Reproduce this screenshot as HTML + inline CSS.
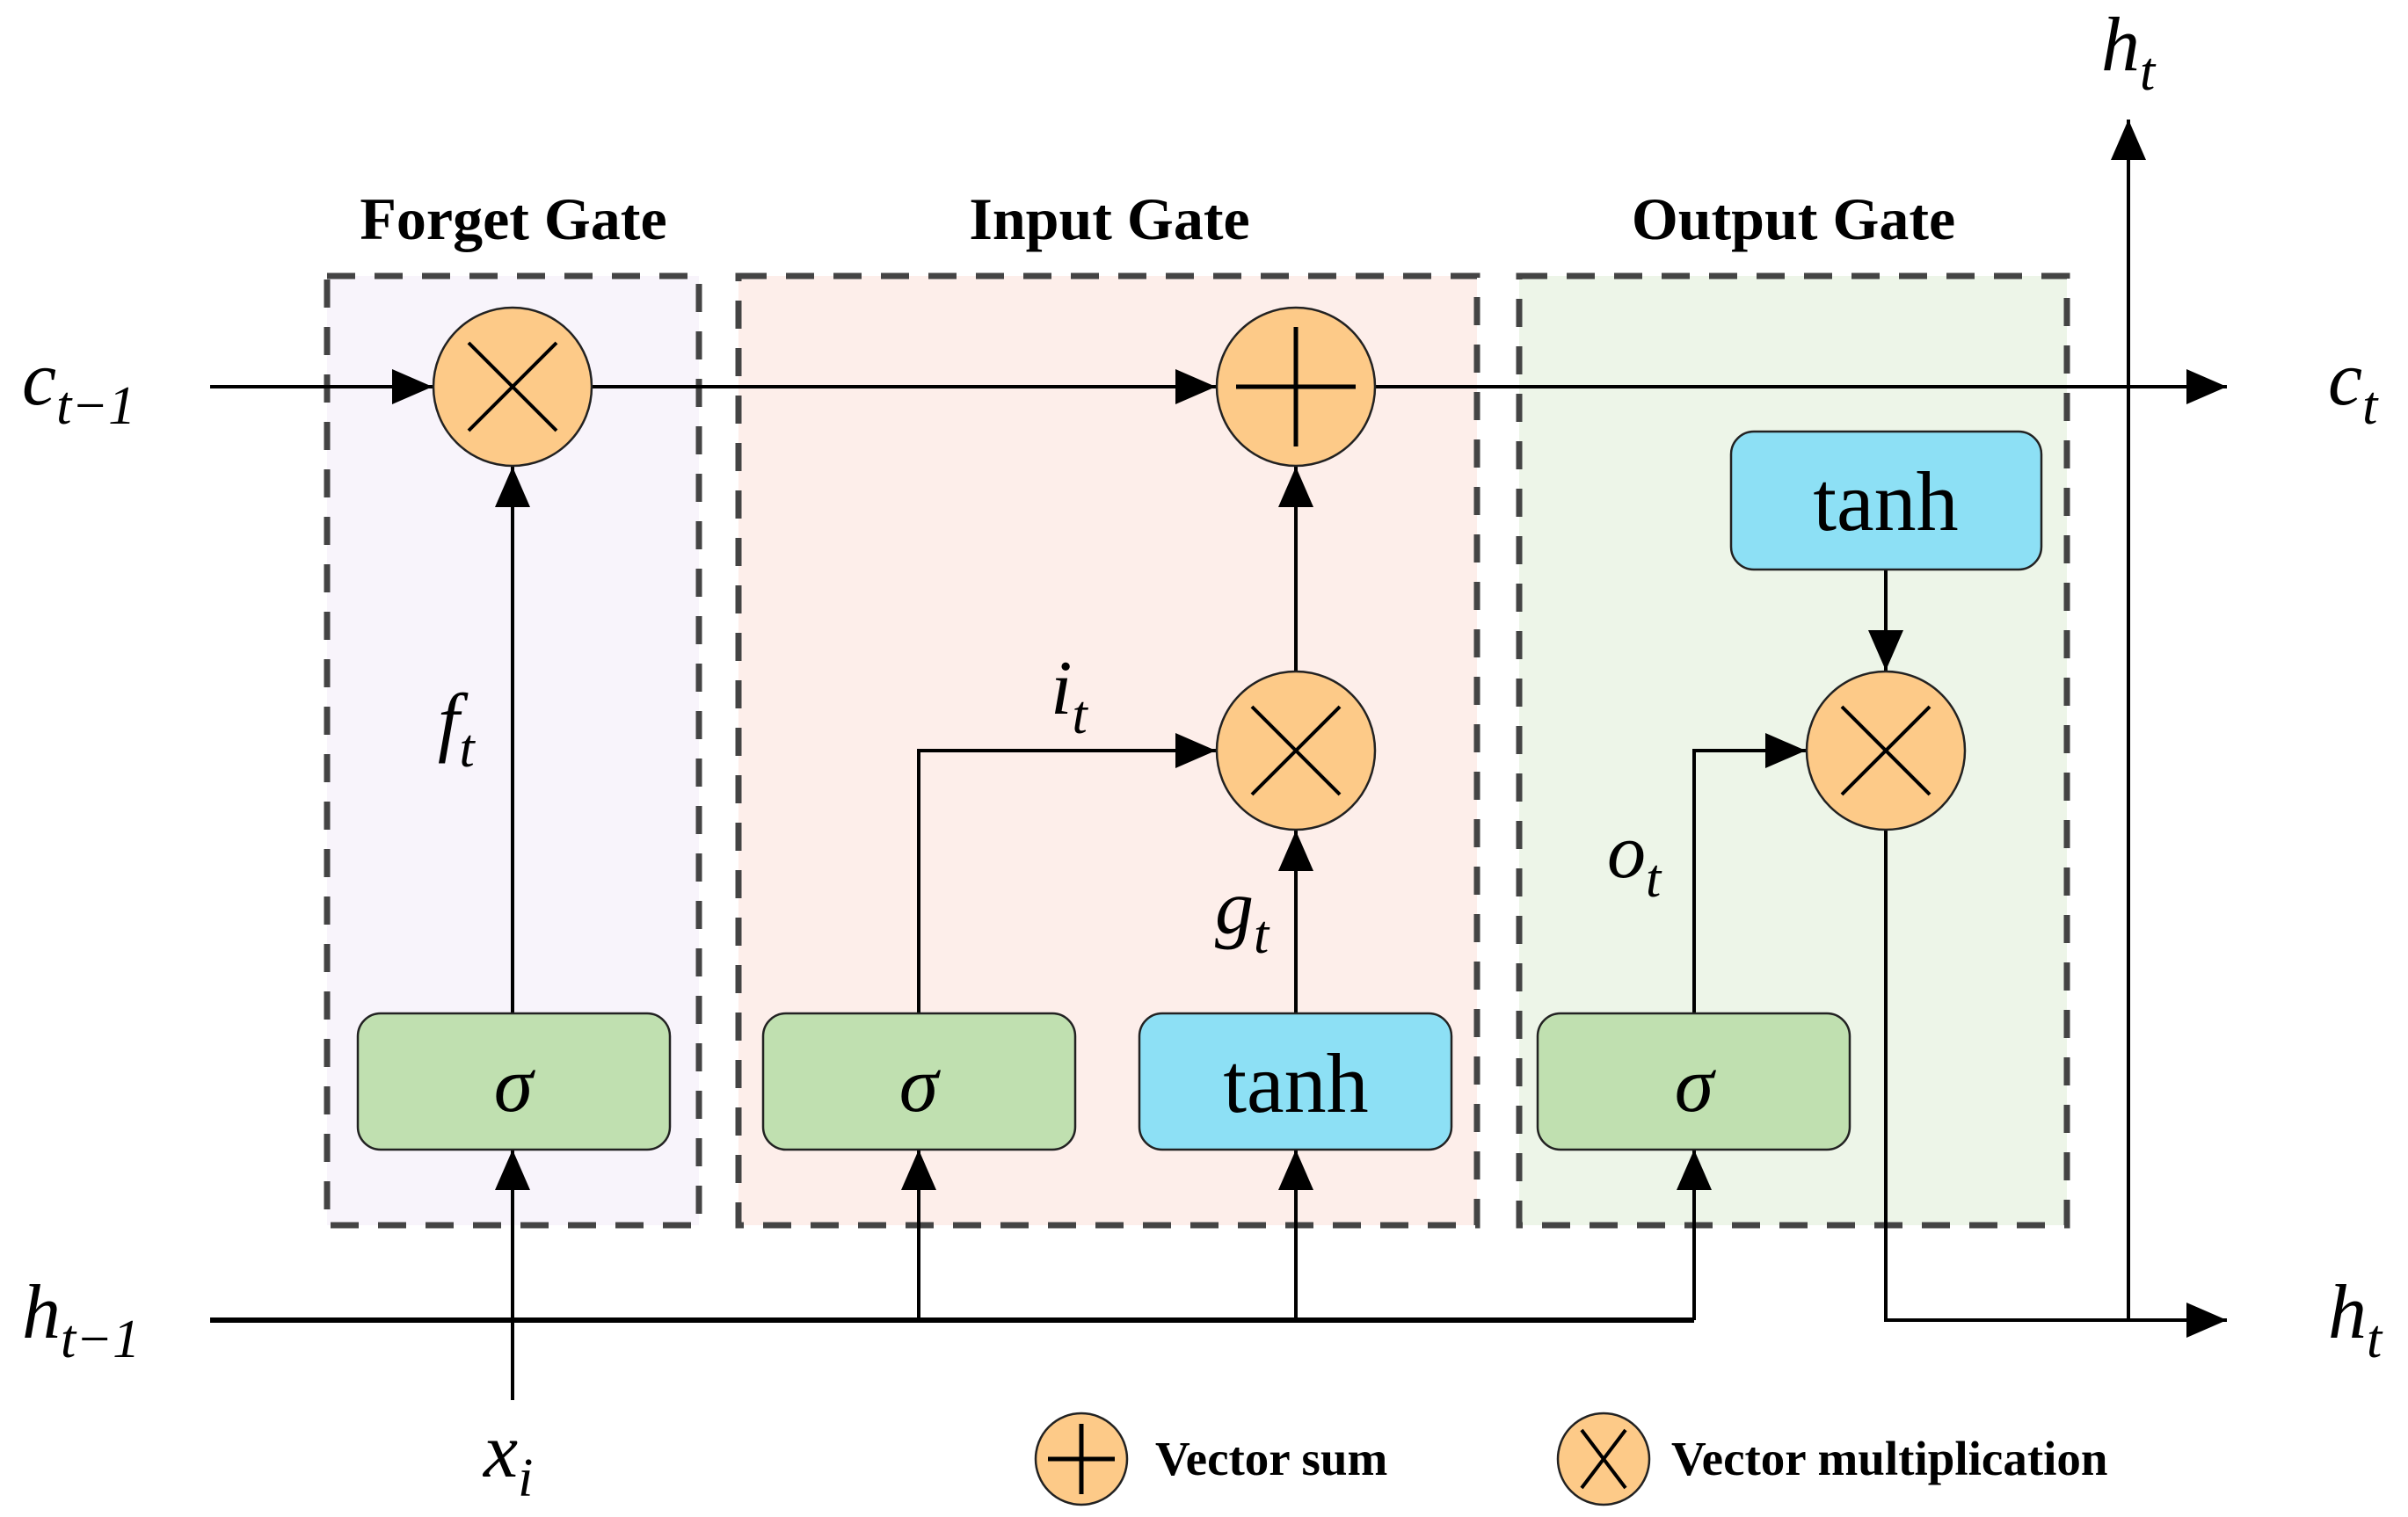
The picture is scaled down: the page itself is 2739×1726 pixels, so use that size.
<!DOCTYPE html>
<html><head><meta charset="utf-8"><style>
html,body{margin:0;padding:0;background:#fff;}
svg{display:block;}
text{font-family:"Liberation Serif",serif;fill:#000;}
.it{font-style:italic;}
.b{font-weight:bold;}
</style></head><body>
<svg width="2739" height="1726" viewBox="0 0 2739 1726" xmlns="http://www.w3.org/2000/svg">
<defs>
<marker id="a" markerWidth="48" markerHeight="40" refX="46" refY="20" orient="auto" markerUnits="userSpaceOnUse">
<path d="M0,0 L46,20 L0,40 Z" fill="#000"/></marker>
</defs>
<rect x="372" y="314" width="423" height="1080" fill="#f8f4fb"/>
<rect x="840" y="314" width="840" height="1080" fill="#fdeeea"/>
<rect x="1728" y="314" width="623" height="1080" fill="#edf5e8"/>
<g fill="none" stroke="#444" stroke-width="7" stroke-dasharray="32 22">
<rect x="372" y="314" width="423" height="1080"/>
<rect x="840" y="314" width="840" height="1080"/>
<rect x="1728" y="314" width="623" height="1080"/>
</g>
<text x="584" y="272" font-size="68" class="b" text-anchor="middle">Forget Gate</text>
<text x="1262" y="272" font-size="68" class="b" text-anchor="middle">Input Gate</text>
<text x="2040" y="272" font-size="68" class="b" text-anchor="middle">Output Gate</text>
<g stroke="#000" stroke-width="4" fill="none">
<line x1="239" y1="440" x2="492" y2="440" marker-end="url(#a)"/>
<line x1="674" y1="440" x2="1383" y2="440" marker-end="url(#a)"/>
<line x1="1565" y1="440" x2="2533" y2="440" marker-end="url(#a)"/>
<line x1="239" y1="1502" x2="1927" y2="1502" stroke-width="6"/>
<polyline points="2145,945 2145,1502 2533,1502" marker-end="url(#a)"/>
<line x1="2421" y1="1502" x2="2421" y2="136" marker-end="url(#a)"/>
<line x1="583" y1="1153" x2="583" y2="531" marker-end="url(#a)"/>
<line x1="583" y1="1593" x2="583" y2="1308" marker-end="url(#a)"/>
<polyline points="1045,1153 1045,854 1383,854" marker-end="url(#a)"/>
<line x1="1045" y1="1502" x2="1045" y2="1308" marker-end="url(#a)"/>
<line x1="1474" y1="1153" x2="1474" y2="945" marker-end="url(#a)"/>
<line x1="1474" y1="1502" x2="1474" y2="1308" marker-end="url(#a)"/>
<line x1="1474" y1="763" x2="1474" y2="531" marker-end="url(#a)"/>
<polyline points="1927,1153 1927,854 2054,854" marker-end="url(#a)"/>
<line x1="1927" y1="1502" x2="1927" y2="1308" marker-end="url(#a)"/>
<line x1="2145" y1="648" x2="2145" y2="763" marker-end="url(#a)"/>
</g>
<g stroke="#222" stroke-width="2.5">
<rect x="407" y="1153" width="355" height="155" rx="26" fill="#c0e0b0"/>
<rect x="868" y="1153" width="355" height="155" rx="26" fill="#c0e0b0"/>
<rect x="1296" y="1153" width="355" height="155" rx="26" fill="#8de0f5"/>
<rect x="1749" y="1153" width="355" height="155" rx="26" fill="#c0e0b0"/>
<rect x="1969" y="491" width="353" height="157" rx="26" fill="#8de0f5"/>
</g>
<text x="584" y="1264" font-size="90" class="it" text-anchor="middle">σ</text>
<text x="1045" y="1264" font-size="90" class="it" text-anchor="middle">σ</text>
<text x="1927" y="1264" font-size="90" class="it" text-anchor="middle">σ</text>
<text x="1474" y="1265" font-size="96" text-anchor="middle">tanh</text>
<text x="2145" y="603" font-size="96" text-anchor="middle">tanh</text>
<g stroke="#222" stroke-width="2.5" fill="#fdca88">
<circle cx="583" cy="440" r="90"/>
<circle cx="1474" cy="440" r="90"/>
<circle cx="1474" cy="854" r="90"/>
<circle cx="2145" cy="854" r="90"/>
<circle cx="1230" cy="1660" r="52"/>
<circle cx="1824" cy="1660" r="52"/>
</g>
<g stroke="#000" stroke-width="4">
<path d="M533,390 L633,490 M633,390 L533,490"/>
<path d="M1474,372 L1474,508 M1406,440 L1542,440" stroke-width="5"/>
<path d="M1424,804 L1524,904 M1524,804 L1424,904"/>
<path d="M2095,804 L2195,904 M2195,804 L2095,904"/>
<path d="M1230,1620 L1230,1700 M1192,1660 L1268,1660" stroke-width="5"/>
<path d="M1799,1627 L1849,1693 M1849,1627 L1799,1693"/>
</g>
<text x="1314" y="1678" font-size="55" class="b">Vector sum</text>
<text x="1901" y="1678" font-size="55" class="b">Vector multiplication</text>
<text x="25" y="460" font-size="88" class="it">c<tspan font-size="62" dy="22">t−1</tspan></text>
<text x="2648" y="460" font-size="88" class="it">c<tspan font-size="62" dy="22">t</tspan></text>
<text x="25" y="1522" font-size="88" class="it">h<tspan font-size="62" dy="22">t−1</tspan></text>
<text x="2648" y="1522" font-size="88" class="it">h<tspan font-size="62" dy="22">t</tspan></text>
<text x="2390" y="80" font-size="88" class="it">h<tspan font-size="62" dy="22">t</tspan></text>
<text x="550" y="1680" font-size="88" class="it">x<tspan font-size="62" dy="22">i</tspan></text>
<text x="498" y="850" font-size="88" class="it">f<tspan font-size="62" dy="22">t</tspan></text>
<text x="1195" y="812" font-size="88" class="it">i<tspan font-size="62" dy="22">t</tspan></text>
<text x="1382" y="1062" font-size="88" class="it">g<tspan font-size="62" dy="22">t</tspan></text>
<text x="1828" y="998" font-size="88" class="it">o<tspan font-size="62" dy="22">t</tspan></text>
</svg>
</body></html>
